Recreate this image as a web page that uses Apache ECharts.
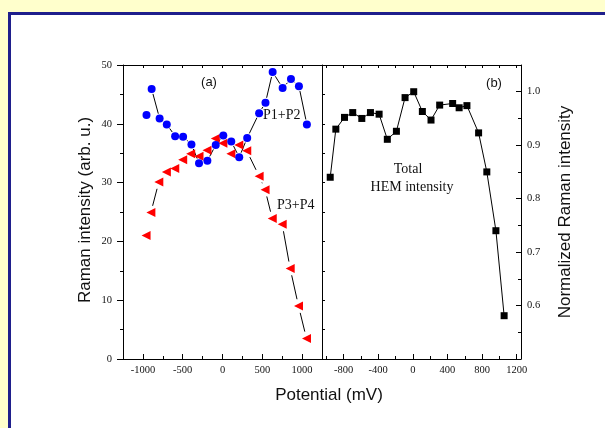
<!DOCTYPE html>
<html>
<head>
<meta charset="utf-8">
<title>Raman intensity vs potential</title>
<script src="https://cdn.jsdelivr.net/npm/echarts@6/dist/echarts.min.js"></script>
<style>
  html, body { margin: 0; padding: 0; width: 605px; height: 428px; overflow: hidden; background: #ffffcc; }
  #frame { position: absolute; left: 8px; top: 12px; width: 700px; height: 500px; background: #ffffff; border: 3px solid #1f1f8c; }
  #chart { position: absolute; left: 0; top: 0; width: 605px; height: 428px; }
</style>
</head>
<body>
<div id="frame"></div>
<div id="chart"></div>
<script>
// Panel (a): Raman intensity of the two band pairs
const potentialP12 = [-955, -890, -790, -700, -595, -495, -390, -295, -190, -85, 10, 110, 210, 310, 460, 540, 630, 755, 860, 960, 1060];
const ramanP12     = [41.5, 45.9, 40.9, 39.9, 37.9, 37.8, 36.5, 33.3, 33.7, 36.4, 38.0, 37.0, 34.3, 37.6, 41.8, 43.6, 48.8, 46.1, 47.6, 46.4, 39.9];

const potentialP34 = [-960, -900, -800, -705, -600, -500, -400, -295, -195, -90, 5, 105, 205, 305, 460, 535, 625, 750, 850, 955, 1055];
const ramanP34     = [21.0, 24.9, 30.1, 31.8, 32.4, 33.9, 34.9, 34.5, 35.5, 37.5, 36.7, 34.9, 36.4, 35.4, 31.1, 28.8, 23.9, 22.9, 15.4, 9.0, 3.5];

// Panel (b): normalized total HEM intensity
const potentialHEM = [-955, -890, -790, -695, -590, -490, -390, -295, -190, -90, 10, 110, 210, 310, 460, 535, 625, 760, 855, 960, 1055];
const normHEM      = [0.840, 0.930, 0.952, 0.961, 0.950, 0.961, 0.958, 0.911, 0.926, 0.989, 1.000, 0.963, 0.947, 0.975, 0.978, 0.970, 0.974, 0.923, 0.850, 0.740, 0.581];

// Tick positions
const ticksAxMajor = [-1000, -500, 0, 500, 1000];
const ticksAxMinor = [-750, -250, 250, 750];
const ticksAxTop   = [-1000, -750, -500, -250, 0, 250, 500, 750, 1000];
const ticksBxMajor = [-800, -400, 0, 400, 800, 1200];
const ticksBxMinor = [-1000, -600, -200, 200, 600, 1000];
const ticksBxTop   = [-1000, -800, -600, -400, -200, 0, 200, 400, 600, 800, 1000, 1200];
const ticksAyMajor = [0, 10, 20, 30, 40, 50];
const ticksAyMinor = [5, 15, 25, 35, 45];
const ticksAyRight = [5, 10, 15, 20, 25, 30, 35, 40, 45];
const ticksByMajor = [0.6, 0.7, 0.8, 0.9, 1.0];
const ticksByMinor = [0.55, 0.65, 0.75, 0.85, 0.95];

const SERIF = "'Liberation Serif', 'Times New Roman', serif";
const SANS = "'Liberation Sans', Arial, sans-serif";
const INK = '#000';

function zip(xs, ys) { return xs.map((x, i) => [x, ys[i]]); }
// Connecting segments; the first reading of a band-pair series stands on its own
function segments(xs, ys, from) {
  const out = [];
  for (let i = from; i < xs.length - 1; i++) out.push([xs[i], ys[i], xs[i + 1], ys[i + 1]]);
  return out;
}

function axisCommon(o) {
  return Object.assign({
    type: 'value',
    splitLine: { show: false },
    axisLine: { show: true, onZero: false, lineStyle: { color: INK, width: 1 } },
    axisTick: { show: false },
    axisLabel: { show: false }
  }, o);
}
function ticks(values, len, inside) {
  return { show: true, inside: inside, length: len, customValues: values, lineStyle: { color: INK, width: 1 } };
}
function labels(values, margin, fmt) {
  return { show: true, customValues: values, margin: margin, fontFamily: SERIF, fontSize: 10.5, color: '#111', formatter: fmt };
}

// Line joining consecutive points, with a small gap left around each marker
function gappedLine(gap) {
  return function (params, api) {
    const a = api.coord([api.value(0), api.value(1)]);
    const b = api.coord([api.value(2), api.value(3)]);
    const dx = b[0] - a[0], dy = b[1] - a[1];
    const L = Math.hypot(dx, dy);
    if (L <= 2 * gap + 0.5) return { type: 'group', children: [] };
    const ux = dx / L, uy = dy / L;
    return {
      type: 'line',
      shape: { x1: a[0] + ux * gap, y1: a[1] + uy * gap, x2: b[0] - ux * gap, y2: b[1] - uy * gap },
      style: { stroke: INK, lineWidth: 1 }
    };
  };
}

const chart = echarts.init(document.getElementById('chart'), null, { renderer: 'canvas' });

chart.setOption({
  animation: false,
  backgroundColor: 'transparent',
  grid: [
    { left: 123, top: 65, width: 199, height: 294 },
    { left: 322, top: 65, width: 199, height: 294 }
  ],
  xAxis: [
    axisCommon({ gridIndex: 0, position: 'bottom', min: -1250, max: 1250,
      axisTick: ticks(ticksAxMajor, 5, true), axisLabel: labels(ticksAxMajor, 6, v => String(v)) }),
    axisCommon({ gridIndex: 0, position: 'bottom', min: -1250, max: 1250, axisLine: { show: false, onZero: false },
      axisTick: ticks(ticksAxMinor, 3, true) }),
    axisCommon({ gridIndex: 0, position: 'top', min: -1250, max: 1250,
      axisTick: ticks(ticksAxTop, 3, true) }),
    axisCommon({ gridIndex: 1, position: 'bottom', min: -1050, max: 1250,
      axisTick: ticks(ticksBxMajor, 5, true), axisLabel: labels(ticksBxMajor, 6, v => String(v)) }),
    axisCommon({ gridIndex: 1, position: 'bottom', min: -1050, max: 1250, axisLine: { show: false, onZero: false },
      axisTick: ticks(ticksBxMinor, 3, true) }),
    axisCommon({ gridIndex: 1, position: 'top', min: -1050, max: 1250,
      axisTick: ticks(ticksBxTop, 3, true) })
  ],
  yAxis: [
    axisCommon({ gridIndex: 0, position: 'left', min: 0, max: 50,
      axisTick: ticks(ticksAyMajor, 6, false), axisLabel: labels(ticksAyMajor, 11, v => String(v)) }),
    axisCommon({ gridIndex: 0, position: 'left', min: 0, max: 50, axisLine: { show: false, onZero: false },
      axisTick: ticks(ticksAyMinor, 3, false) }),
    axisCommon({ gridIndex: 0, position: 'right', min: 0, max: 50,
      axisTick: ticks(ticksAyRight, 3, false) }),
    axisCommon({ gridIndex: 1, position: 'right', min: 0.5, max: 1.05,
      axisTick: ticks(ticksByMajor, 5, true), axisLabel: labels(ticksByMajor, 6, v => v.toFixed(1)) }),
    axisCommon({ gridIndex: 1, position: 'right', min: 0.5, max: 1.05, axisLine: { show: false, onZero: false },
      axisTick: ticks(ticksByMinor, 3, true) })
  ],
  series: [
    {
      type: 'custom', name: 'P1+P2 line', xAxisIndex: 0, yAxisIndex: 0, z: 1, silent: true,
      data: segments(potentialP12, ramanP12, 1), encode: { x: [0, 2], y: [1, 3] },
      renderItem: gappedLine(5)
    },
    {
      type: 'custom', name: 'P3+P4 line', xAxisIndex: 0, yAxisIndex: 0, z: 1, silent: true,
      data: segments(potentialP34, ramanP34, 1), encode: { x: [0, 2], y: [1, 3] },
      renderItem: gappedLine(7)
    },
    {
      type: 'scatter', name: 'P3+P4', xAxisIndex: 0, yAxisIndex: 0, z: 3,
      symbol: 'triangle', symbolRotate: 90, symbolSize: 9,
      itemStyle: { color: '#ff0000', opacity: 1 },
      data: zip(potentialP34, ramanP34)
    },
    {
      type: 'scatter', name: 'P1+P2', xAxisIndex: 0, yAxisIndex: 0, z: 4,
      symbol: 'circle', symbolSize: 8,
      itemStyle: { color: '#0000ff', opacity: 1 },
      data: zip(potentialP12, ramanP12)
    },
    {
      type: 'line', name: 'Total HEM intensity', xAxisIndex: 3, yAxisIndex: 3, z: 3,
      symbol: 'rect', symbolSize: 7, showAllSymbol: true,
      itemStyle: { color: '#000', opacity: 1 },
      lineStyle: { color: '#000', width: 1 },
      data: zip(potentialHEM, normHEM)
    }
  ],
  graphic: [
    { type: 'text', x: 209, y: 82, style: { text: '(a)', font: '13px ' + SANS, fill: '#111', align: 'center', verticalAlign: 'middle' } },
    { type: 'text', x: 494, y: 83, style: { text: '(b)', font: '13px ' + SANS, fill: '#111', align: 'center', verticalAlign: 'middle' } },
    { type: 'text', x: 263, y: 115, style: { text: 'P1+P2', font: '14px ' + SERIF, fill: '#111', align: 'left', verticalAlign: 'middle' } },
    { type: 'text', x: 277, y: 205, style: { text: 'P3+P4', font: '14px ' + SERIF, fill: '#111', align: 'left', verticalAlign: 'middle' } },
    { type: 'text', x: 408, y: 169, style: { text: 'Total', font: '14px ' + SERIF, fill: '#111', align: 'center', verticalAlign: 'middle' } },
    { type: 'text', x: 412, y: 187, style: { text: 'HEM intensity', font: '14px ' + SERIF, fill: '#111', align: 'center', verticalAlign: 'middle' } },
    { type: 'text', x: 85.5, y: 210, rotation: Math.PI / 2, style: { text: 'Raman intensity (arb. u.)', font: '17px ' + SANS, fill: '#111', align: 'center', verticalAlign: 'middle' } },
    { type: 'text', x: 565.5, y: 212, rotation: Math.PI / 2, style: { text: 'Normalized Raman intensity', font: '17px ' + SANS, fill: '#111', align: 'center', verticalAlign: 'middle' } },
    { type: 'text', x: 329, y: 395, style: { text: 'Potential (mV)', font: '17px ' + SANS, fill: '#111', align: 'center', verticalAlign: 'middle' } }
  ]
});
</script>
</body>
</html>
